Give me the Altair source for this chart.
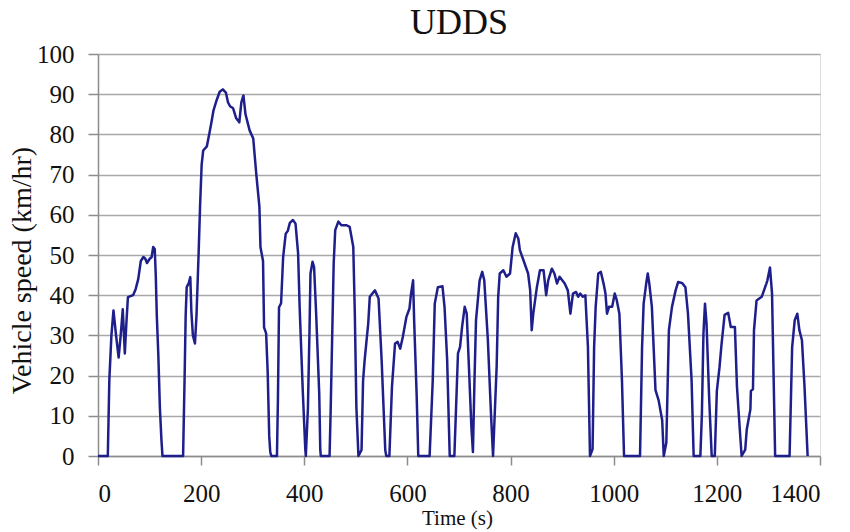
import altair as alt
import pandas as pd

# Time (s) and vehicle speed (km/hr)
time_s = [
    0, 19, 22, 26, 30, 35, 40, 44, 48, 52, 55, 58, 68, 73, 78, 83, 88, 92, 95, 100, 104, 107, 110,
    112, 114, 117, 120, 123, 125,
    165, 168, 170, 172, 176, 179, 181, 184, 188, 191, 195, 198, 201, 204, 211, 216, 220, 224, 230,
    236, 242, 248, 252, 256, 262, 268, 274, 278, 282, 286, 294, 301, 304, 307, 313, 315, 320, 322,
    326, 329, 332, 334, 336,
    347, 349, 351, 355, 359, 364, 368, 372, 378, 383, 388, 391, 397, 402, 403, 407, 410, 412, 416,
    419, 423, 429, 431, 432,
    449, 451, 457, 460, 466, 472, 482, 488, 495, 498, 501, 505, 511, 514, 517, 524, 527, 537, 544,
    550, 557, 559, 565, 570, 576, 581, 586, 591, 598, 604, 607, 611, 613, 618, 621,
    643, 649, 653, 659, 668, 672, 677, 682,
    691, 698, 702, 706, 711, 715, 719, 724, 727, 730, 733, 740, 745, 749, 756, 762, 766, 773, 776,
    779, 786, 792, 799, 804, 810, 815, 818, 825, 834, 838, 841, 844, 851, 857, 864, 869, 873, 880,
    885, 890, 895, 905, 911, 916, 921, 927, 931, 935, 940, 945, 950, 954, 959, 962, 965, 970, 975,
    981, 984, 987, 991, 997, 1002, 1006, 1011, 1016, 1020,
    1051, 1055, 1058, 1063, 1066, 1069, 1074, 1081, 1087, 1094, 1097, 1102, 1107, 1113, 1120, 1125,
    1133, 1139, 1144, 1151, 1155,
    1168, 1171, 1174, 1177, 1180, 1185, 1190, 1196, 1200, 1205, 1209, 1215, 1222, 1227, 1235, 1239,
    1245, 1248, 1255, 1258, 1265, 1266, 1270, 1272, 1277, 1287, 1296, 1298, 1303, 1307, 1310, 1313,
    1341, 1346, 1351, 1356, 1360, 1365, 1370, 1376,
]
speed_kmh = [
    0, 0, 19, 30, 36.2, 30, 24.5, 30, 36.5, 25.5, 33, 39.5, 40, 41.5, 44, 48.5, 49.5, 49, 48, 49,
    49.5, 52, 51.5,
    45, 35, 25, 12, 4, 0,
    0, 20, 35, 42, 43, 44.5, 36, 30, 28, 35, 50, 62.5, 72.5, 76, 77, 80.3, 83, 86, 88.5,
    90.6, 91.2, 90.4, 88, 87, 86.5, 84, 83, 88, 89.7, 85, 81, 79, 74.5, 70, 62, 52, 48.5, 32,
    30.5, 21, 5, 1, 0,
    0, 15, 37, 38, 49.5, 55.3, 56, 58, 58.7, 57.8, 50.4, 37, 16.4, 1.5, 0, 11.7, 30.5, 45.4, 48.3,
    47, 35.4, 15.5, 1.5, 0,
    0, 10.5, 47.9, 56.2, 58.3, 57.4, 57.4, 57, 52, 35.4, 12.2, 0, 1.5, 18.8, 23.8, 33, 39.6, 41.2,
    39.2, 23.8, 1.5, 0, 0, 17.2, 28, 28.4, 26.7, 29.6, 34.6, 36.7, 40.4, 43.7, 33.8, 14.7, 0,
    0, 18.5, 37.9, 42, 42.2, 37, 24, 0,
    0, 25.5, 27.1, 32.1, 37.1, 35.4, 22.9, 7.2, 1, 18.8, 33.8, 43.7, 45.8, 43.7, 28.8, 10.5, 0,
    22.2, 39.6, 45.4, 46.2, 44.6, 45.4, 52, 55.4, 54.1, 51.2, 48.7, 45.4, 41.2, 31.3, 35.4, 42,
    46.2, 46.2, 40, 43.7, 46.6, 45.4, 42.9, 44.6, 42.9, 41.2, 35.4, 40.4, 40.8, 39.6, 40.4, 39.6,
    40, 27.1, 0, 1.7, 27.1, 37.1, 45.4, 45.8, 42.5, 40.4, 35.4, 37.1, 37.1, 40.4, 38.7, 35.4,
    18.8, 0,
    0, 27.1, 37.9, 42.9, 45.4, 42.9, 37.1, 16.4, 13.9, 8.9, 0, 3.3, 31.3, 37.1, 41.2, 43.3,
    43, 42, 35.4, 18.8, 0,
    0, 10.5, 30.5, 37.9, 32.9, 14.7, 0, 0, 16.2, 21.9, 27.7, 35.1, 35.6, 32.1, 32.1, 17.2,
    5.6, 0, 1.6, 6.6, 11.6, 16.2, 16.6, 31.3, 38.7, 39.6, 42.9, 43.7, 46.9, 40.4, 20, 0,
    0, 27.1, 33.8, 35.4, 31.3, 28.8, 17.2, 0,
]
x_ticks = [0, 200, 400, 600, 800, 1000, 1200, 1400]
y_ticks = [0, 10, 20, 30, 40, 50, 60, 70, 80, 90, 100]

df = pd.DataFrame({"t": time_s, "v": speed_kmh})

SERIF = "Liberation Serif"

chart = (
    alt.Chart(df)
    .mark_line(color="#1F1F8C", strokeWidth=2.5, strokeJoin="round")
    .encode(
        x=alt.X(
            "t:Q",
            scale=alt.Scale(domain=[0, 1400], nice=False, zero=False),
            axis=alt.Axis(
                values=x_ticks,
                format="d",
                title="Time (s)",
                grid=False,
                tickSize=9,
                labelPadding=16,
                labelFont=SERIF,
                labelFontSize=25,
                labelColor="#111111",
                titleFont=SERIF,
                titleFontSize=21,
                titleFontWeight="normal",
                titleColor="#111111",
                titleX=359,
                titleY=62,
                titleBaseline="middle",
                titleAlign="center",
                domainColor="#8C8C8C",
                domainWidth=1.5,
                tickColor="#8C8C8C",
                tickWidth=1.5,
            ),
        ),
        y=alt.Y(
            "v:Q",
            scale=alt.Scale(domain=[0, 100], nice=False),
            axis=alt.Axis(
                values=y_ticks,
                format="d",
                title="Vehicle speed (km/hr)",
                grid=True,
                gridColor="#A8A8A8",
                gridWidth=1.5,
                tickSize=10,
                labelPadding=14,
                labelFont=SERIF,
                labelFontSize=25,
                labelColor="#111111",
                titleFont=SERIF,
                titleFontSize=28,
                titleFontWeight="normal",
                titleColor="#111111",
                titleAngle=-90,
                titleX=-76,
                titleY=216,
                titleBaseline="middle",
                titleAlign="center",
                domainColor="#8C8C8C",
                domainWidth=1.5,
                tickColor="#8C8C8C",
                tickWidth=1.5,
            ),
        ),
    )
    .properties(
        width=722,
        height=402,
        title=alt.TitleParams(
            text="UDDS",
            font=SERIF,
            fontSize=36,
            fontWeight="normal",
            color="#111111",
            anchor="middle",
            frame="group",
            offset=0,
        ),
        autosize=alt.AutoSizeParams(type="none"),
        padding={"left": 98, "top": 54, "right": 30, "bottom": 76},
    )
    .configure_view(stroke="#8C8C8C", strokeWidth=1.5)
    .configure(background="white")
)

chart.save("out.html", embed_options={"renderer": "svg", "actions": False})
